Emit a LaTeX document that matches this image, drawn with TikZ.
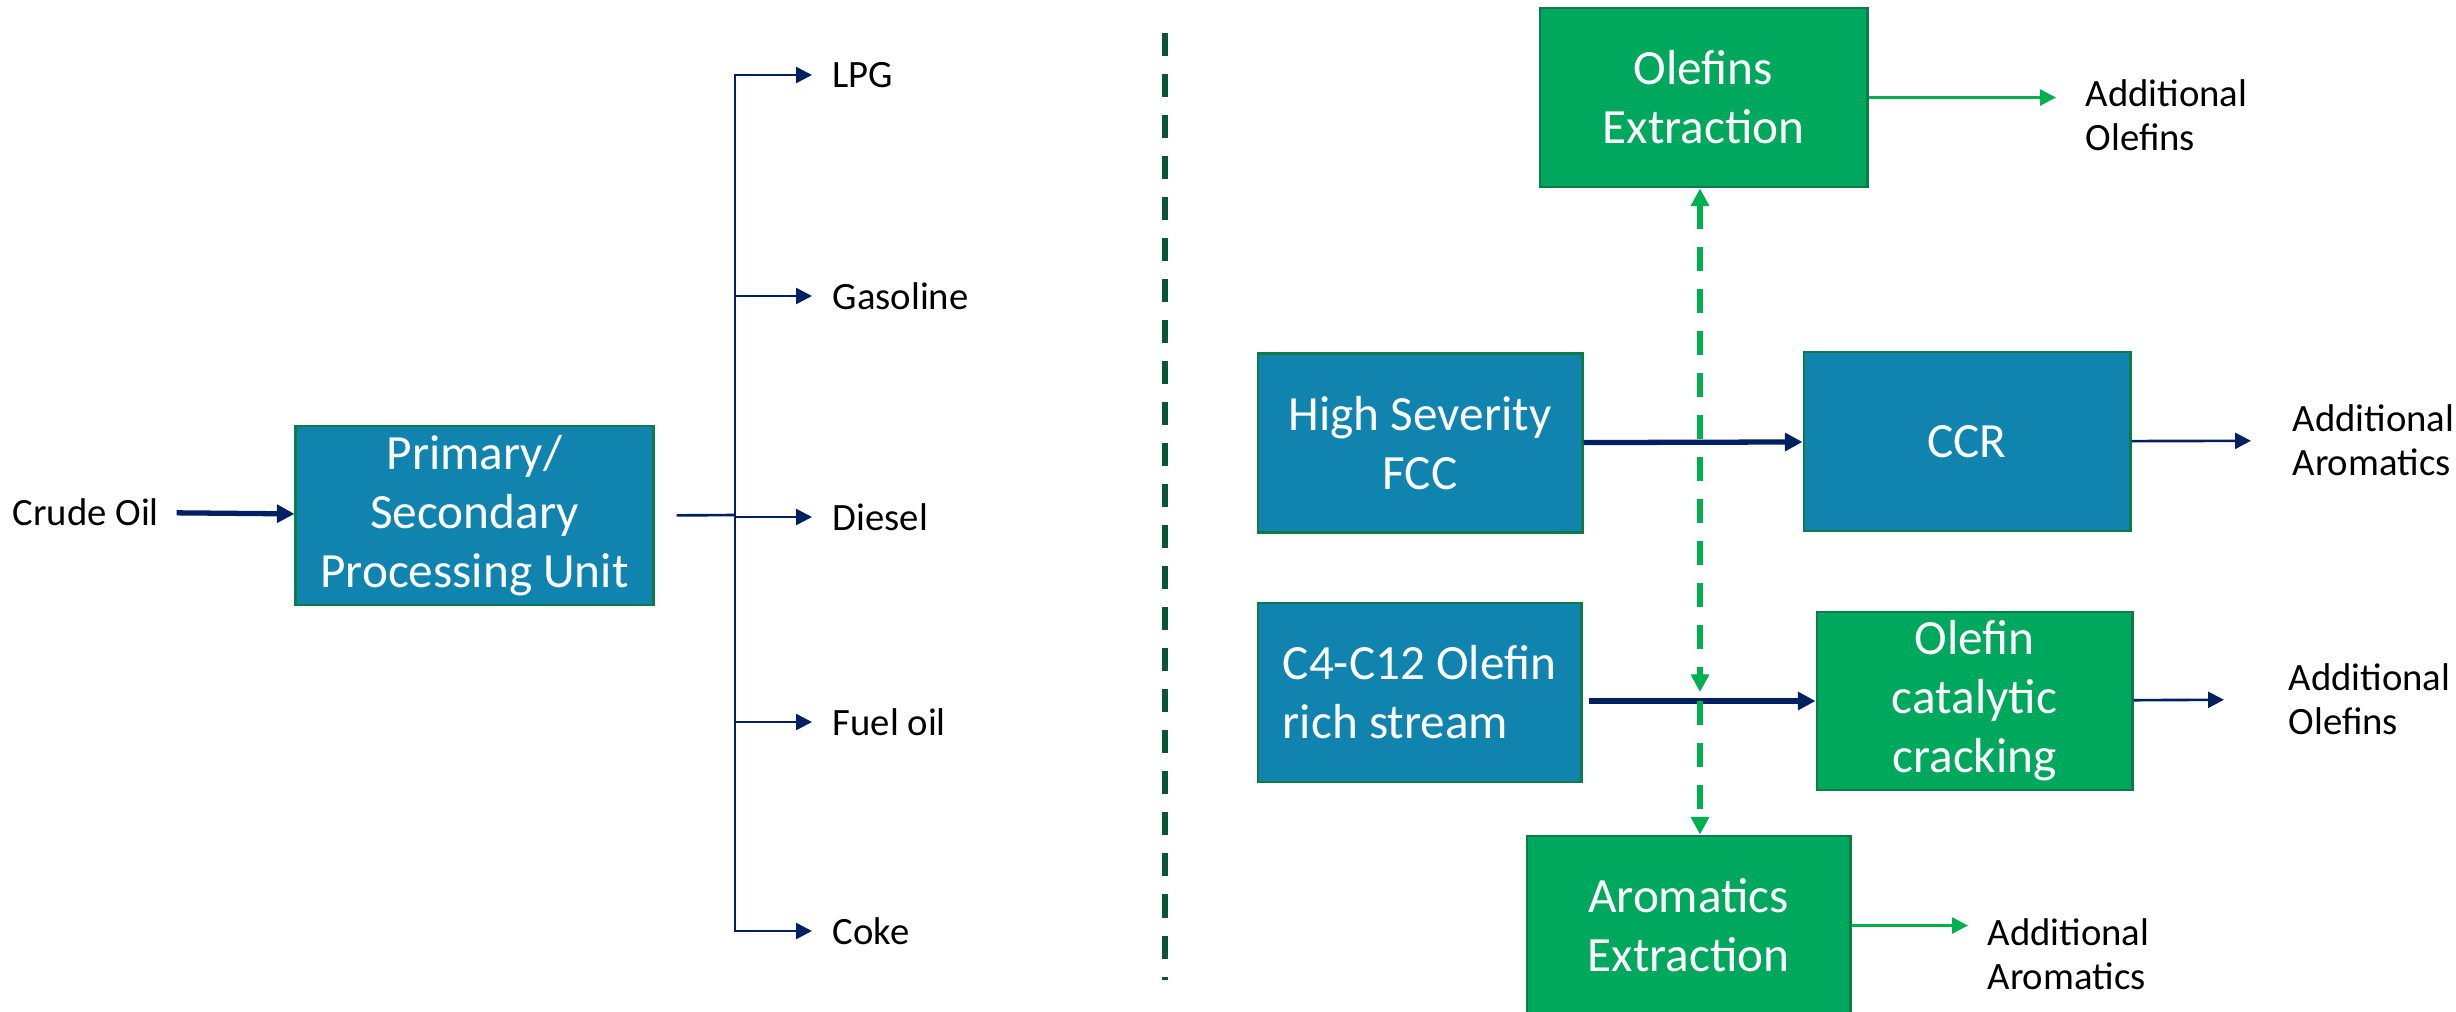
\documentclass[tikz,border=0pt]{standalone}
\usepackage{fontspec}
\setmainfont{Carlito}
\usetikzlibrary{arrows.meta}
\definecolor{unitblue}{RGB}{16,132,174}
\definecolor{unitgreen}{RGB}{0,168,94}
\definecolor{unitedge}{RGB}{14,124,72}
\definecolor{flownavy}{RGB}{0,32,96}
\definecolor{flowgreen}{RGB}{0,176,80}
\definecolor{splitgreen}{RGB}{8,86,54}
\begin{document}
\begin{tikzpicture}[x=0.01cm,y=-0.01cm]
\tikzset{
unit/.style={draw=unitedge,line width=0.8pt,fill=unitblue,text=white,align=center,minimum width=3.24cm,minimum height=1.79cm,inner sep=2pt,font=\fontsize{14}{16.8}\selectfont},
gunit/.style={unit,fill=unitgreen},
stream/.style={inner sep=0pt,anchor=west,align=left,font=\fontsize{11}{12.6}\selectfont},
flow/.style={flownavy,line width=0.75pt,-{Triangle[length=4.5pt,width=4.5pt]}},
bigflow/.style={flownavy,line width=1.5pt,-{Triangle[length=5pt,width=5pt]}},
gflow/.style={flowgreen,line width=0.75pt,-{Triangle[length=4.5pt,width=4.5pt]}},
gdash/.style={flowgreen,line width=1.7pt,dash pattern=on 0.24cm off 0.18cm,>={Triangle[length=5pt,width=5pt]}}
}
\useasboundingbox (0,0) rectangle (2456,1011);
\node[stream] (crude) at (12,512) {Crude Oil};
\node[unit,minimum width=3.57cm] (psu) at (474.5,515.5) {Primary/\\Secondary\\Processing Unit};
\draw[bigflow,shorten <=0.17cm] (crude) -- (psu);
\coordinate (split) at (735,515);
\draw[flownavy,line width=0.75pt,shorten <=0.22cm] (psu.east) -- (split);
\foreach \p/\y/\t in {lpg/75/LPG,gasoline/296/Gasoline,diesel/517/Diesel,fueloil/722/Fuel oil,coke/931/Coke}{
\node[stream] (\p) at (832,\y) {\t};
\draw[flow,shorten >=0.2cm] (split) |- (\p.west);
}
\draw[splitgreen,line width=1.5pt,dash pattern=on 0.23cm off 0.18cm] (1165,33) -- (1165,980);
\node[gunit,minimum width=3.27cm] (oe) at (1703.5,97.5) {Olefins\\Extraction};
\node[unit] (hsfcc) at (1420,443) {High Severity\\FCC};
\node[unit,minimum width=3.26cm] (ccr) at (1967,441.5) {CCR};
\node[unit,minimum width=3.23cm,align=left] (c4) at (1419.5,692.5) {C4-C12 Olefin\\rich stream};
\node[gunit,minimum width=3.15cm,minimum height=1.78cm] (occ) at (1974.5,701) {Olefin\\catalytic\\cracking};
\node[gunit,minimum width=3.23cm] (ae) at (1688.5,925.5) {Aromatics\\Extraction};
\node[stream] (addole1) at (2085,115) {Additional\\Olefins};
\node[stream] (addaro1) at (2292,440.5) {Additional\\Aromatics};
\node[stream] (addole2) at (2288,699) {Additional\\Olefins};
\node[stream] (addaro2) at (1987,954.5) {Additional\\Aromatics};
\draw[gflow,shorten >=0.29cm] (oe) -- (oe -| addole1.west);
\draw[bigflow] (hsfcc) -- (ccr);
\draw[flow,shorten >=0.41cm] (ccr) -- (addaro1);
\coordinate (mix) at (1700,701);
\draw[bigflow,shorten <=0.06cm] (c4.east |- occ) -- (occ);
\draw[flow,shorten >=0.64cm] (occ) -- (addole2);
\draw[gflow,shorten >=0.19cm] (ae) -- (ae -| addaro2.west);
\draw[gdash,<->,shorten >=0.09cm] (oe.south -| mix) -- (mix);
\draw[gdash,->] (mix) -- (ae.north -| mix);
\end{tikzpicture}
\end{document}
